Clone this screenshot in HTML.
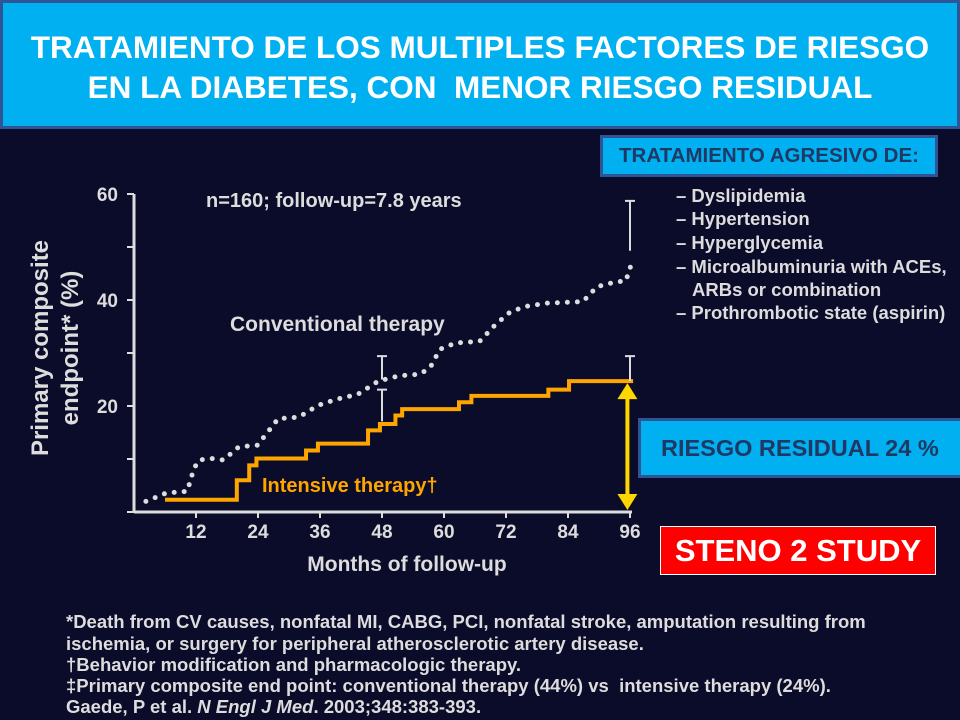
<!DOCTYPE html>
<html><head><meta charset="utf-8"><style>
body{margin:0;width:960px;height:720px;background:#0b0b2a;overflow:hidden;position:relative;font-family:"Liberation Sans",sans-serif;}
.abs{position:absolute;}
#title{left:0;top:0;background:#00b0f0;border:3px solid #2f5597;color:#fff;font-weight:bold;font-size:31.5px;text-align:center;line-height:40px;padding-top:24px;box-sizing:border-box;height:129px;width:960px;white-space:nowrap;}
.box{box-sizing:border-box;font-weight:bold;text-align:center;white-space:nowrap;}
</style></head><body>
<div id="title" class="abs">TRATAMIENTO DE LOS MULTIPLES FACTORES DE RIESGO<br>EN LA DIABETES, CON&nbsp; MENOR RIESGO RESIDUAL</div>
<div class="abs box" style="left:600px;top:135px;width:338px;height:42px;background:#00b0f0;border:3px solid #2f5597;color:#1f3864;font-size:20.5px;line-height:36px;">TRATAMIENTO AGRESIVO DE:</div>
<div class="abs box" style="left:638px;top:418px;width:330px;height:60px;background:#00b0f0;border:3px solid #2f5597;color:#1f3864;font-size:23.5px;line-height:54px;text-align:left;padding-left:20px;">RIESGO RESIDUAL 24 %</div>
<div class="abs box" style="left:660px;top:526px;width:276px;height:49px;background:#ff0000;border:1px solid #fff;color:#fff;font-size:31px;line-height:47px;">STENO 2 STUDY</div>
<svg class="abs" style="left:0;top:0" width="960" height="720">
<g id="axes"></g>
<g id="marks"></g>
<text x="206" y="207" fill="#ddd" font-size="20" font-weight="bold">n=160; follow-up=7.8 years</text>
<text x="230" y="331" fill="#ddd" font-size="21" font-weight="bold">Conventional therapy</text>
<text x="262" y="492" fill="#ffa500" font-size="20" font-weight="bold">Intensive therapy†</text>
<text x="407" y="571" fill="#ddd" font-size="21" font-weight="bold" text-anchor="middle">Months of follow-up</text>
<text transform="translate(48,348) rotate(-90)" fill="#ddd" font-size="24" font-weight="bold" text-anchor="middle">Primary composite</text>
<text transform="translate(78,348) rotate(-90)" fill="#ddd" font-size="24" font-weight="bold" text-anchor="middle">endpoint* (%)</text>
<g fill="#ddd" font-size="18.5" font-weight="bold">
<text x="676" y="202">– Dyslipidemia</text>
<text x="676" y="225">– Hypertension</text>
<text x="676" y="249">– Hyperglycemia</text>
<text x="676" y="273">– Microalbuminuria with ACEs,</text>
<text x="692" y="296">ARBs or combination</text>
<text x="676" y="319">– Prothrombotic state (aspirin)</text>
</g>
<g fill="#ddd" font-size="18.5" font-weight="bold">
<text x="66" y="628">*Death from CV causes, nonfatal MI, CABG, PCI, nonfatal stroke, amputation resulting from</text>
<text x="66" y="650">ischemia, or surgery for peripheral atherosclerotic artery disease.</text>
<text x="66" y="671">†Behavior modification and pharmacologic therapy.</text>
<text x="66" y="692">‡Primary composite end point: conventional therapy (44%) vs&nbsp; intensive therapy (24%).</text>
<text x="66" y="713">Gaede, P et al. <tspan font-style="italic">N Engl J Med</tspan>. 2003;348:383-393.</text>
</g>
</svg>
<script>
const xTicks=[12,24,36,48,60,72,84,96];
const yTicks=[0,10,20,30,40,50,60];
const yLabels=[20,40,60];
const convMonths=[2.3,6.3,10.3,11.6,12.6,15.0,17.3,20.3,23.9,25.9,27.9,31.9,35.6,39.3,43.3,47.3,51.3,55.3,57.3,59.2,62.3,66.9,69.9,72.9,75.9,79.9,86.9,89.6,93.2,95.2,96.6];
const convValues=[2.0,3.6,3.9,8.2,9.8,10.1,9.8,12.3,12.6,15.1,17.6,17.9,20.1,21.3,22.2,24.7,25.7,26.0,27.2,30.7,31.9,32.2,35.3,37.8,38.8,39.4,39.7,42.5,43.4,43.6,47.8];
const intStepMonths=[6.0,19.9,22.3,23.7,33.3,35.6,45.3,47.6,50.6,51.9,62.9,65.3,80.2,84.2,96.6];
const intStepValues=[2.3,6.0,8.8,10.1,11.6,12.9,15.4,16.6,18.2,19.4,20.7,21.9,23.1,24.7];
const errMonths=[48,48,96,96];
const errLow=[25.0,17.1,49.3,24.7];
const errHigh=[29.4,23.1,58.7,29.4];
const residualValue=24.7;
const X=m=>134+m*62/12, Y=v=>512-v*5.3;
const NS='http://www.w3.org/2000/svg';
function mk(t,a,p){const e=document.createElementNS(NS,t);for(const k in a)e.setAttribute(k,a[k]);p.appendChild(e);return e;}
const ax=document.getElementById('axes'), mg=document.getElementById('marks');
let l=mk('line',{x1:134,y1:Y(0),x2:X(96)+2,y2:Y(0),stroke:'#ddd','stroke-width':3},ax);


l=mk('line',{x1:134,y1:Y(60),x2:134,y2:Y(0),stroke:'#ddd','stroke-width':3},ax);


xTicks.forEach(m=>{const t=mk('line',{x1:X(m),y1:Y(0),x2:X(m),y2:Y(0)+6,stroke:'#ddd','stroke-width':2},ax);


const tx=mk('text',{x:X(m),y:Y(0)+26,fill:'#ddd','font-size':19,'font-weight':'bold','text-anchor':'middle'},ax);tx.textContent=m;

});
yTicks.forEach(v=>{const t=mk('line',{x1:127,y1:Y(v),x2:134,y2:Y(v),stroke:'#ddd','stroke-width':2},ax);

});
yLabels.forEach(v=>{const tx=mk('text',{x:118,y:Y(v)+7,fill:'#ddd','font-size':19,'font-weight':'bold','text-anchor':'end'},ax);tx.textContent=v;

});
let d=convMonths.map((m,i)=>(i?'L':'M')+X(m)+','+Y(convValues[i])).join('');
const cp=mk('path',{d:d,fill:'none',stroke:'#ddd','stroke-width':5,'stroke-linecap':'round','stroke-dasharray':'0 10'},mg);


let s='M'+X(intStepMonths[0])+','+Y(intStepValues[0]);
for(let i=0;i<intStepValues.length;i++){s+='H'+X(intStepMonths[i+1]);if(i+1<intStepValues.length)s+='V'+Y(intStepValues[i+1]);}
const ip=mk('path',{d:s,fill:'none',stroke:'#ffa500','stroke-width':4},mg);


errMonths.forEach((m,i)=>{const g=mk('path',{d:`M${X(m)-5},${Y(errHigh[i])}H${X(m)+5}M${X(m)},${Y(errHigh[i])}V${Y(errLow[i])}`,stroke:'#ddd','stroke-width':2,fill:'none'},mg);

});
const ar=mk('g',{},mg);


const axX=X(95.5);
mk('line',{x1:axX,y1:Y(residualValue)+14,x2:axX,y2:Y(0)-14,stroke:'#ffd700','stroke-width':4},ar);
mk('path',{d:`M${axX},${Y(residualValue)+2}l-10,16h20z M${axX},${Y(0)-2}l-10,-16h20z`,fill:'#ffd700'},ar);
</script>
</body></html>
